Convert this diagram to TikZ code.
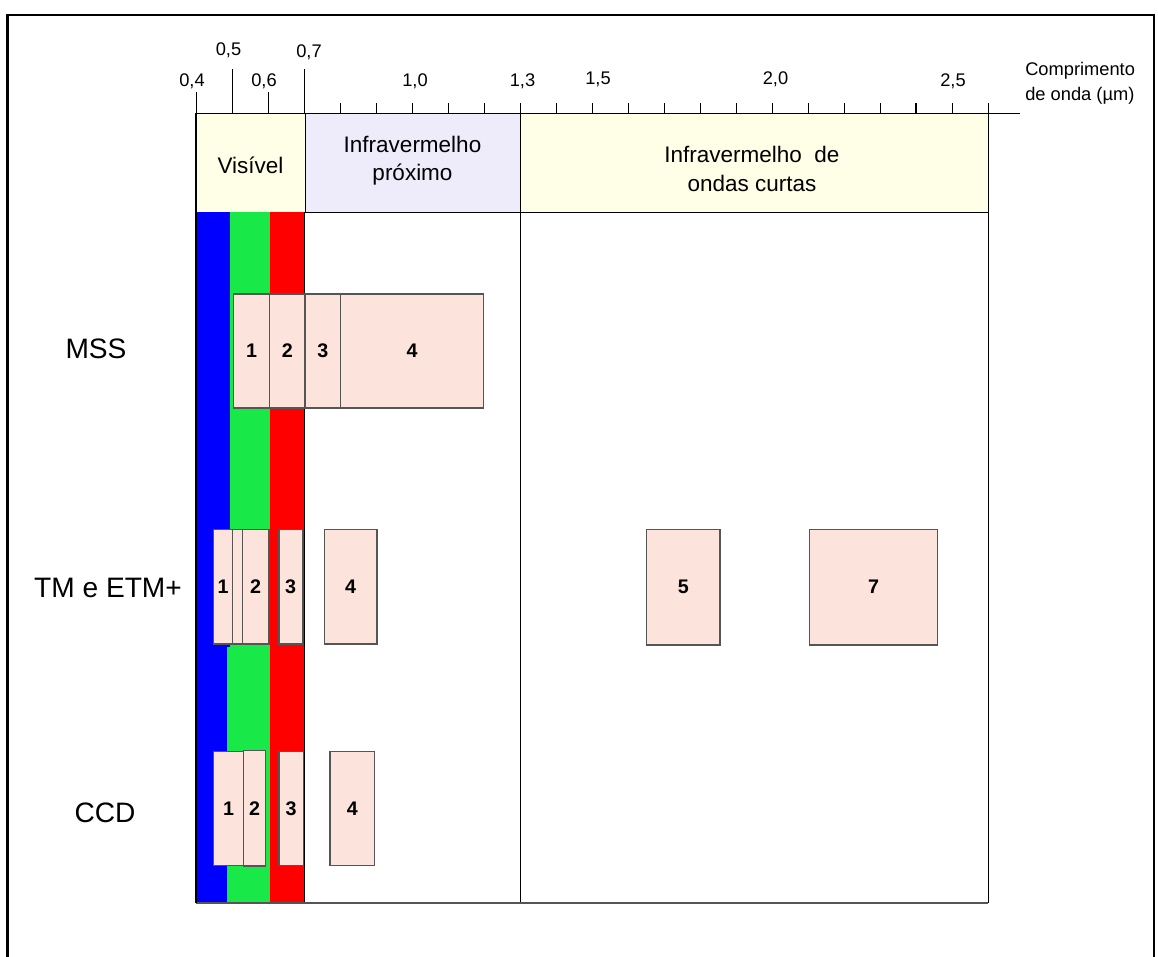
\documentclass[tikz,border=0pt]{standalone}
\usepackage{fontspec}
\setmainfont{Liberation Sans}
\usepackage{xcolor}
\definecolor{specBlue}{RGB}{0, 0, 255}
\definecolor{specGreen}{RGB}{24, 232, 72}
\definecolor{specRed}{RGB}{255, 0, 0}
\definecolor{specCream}{RGB}{255, 255, 232}
\definecolor{specLilac}{RGB}{238, 235, 251}
\definecolor{specPeach}{RGB}{252, 227, 220}
\definecolor{specEdge}{RGB}{85, 85, 85}

% band box: name, x1, y1, x2, y2, label
\newcommand{\bandbox}[6]{%
  \draw[bandedge] (#2,#3) rectangle (#4,#5);
  \node[bandnum] (#1) at ({(#2+#4)/2},{(#3+#5)/2}) {#6};
}

\begin{document}
\begin{tikzpicture}[x=0.025cm, y=-0.025cm,
    bandedge/.style={draw=specEdge, fill=specPeach, line width=0.9pt},
    bandnum/.style={font=\fontsize{14}{16}\selectfont\bfseries, inner sep=0pt},
    ticklbl/.style={font=\fontsize{13}{15}\selectfont, inner sep=0pt},
    sensor/.style={font=\fontsize{20}{24}\selectfont, inner sep=0pt},
    region/.style={font=\fontsize{16}{20}\selectfont, align=center, inner sep=0pt}]
    \useasboundingbox (0,0) rectangle (1158,956);

    % Frame
    \draw[line width=1.8pt] (7.5,970) -- (7.5,15) -- (1154,15) -- (1154,970);

    % Header regions
    \draw[line width=0.7pt, fill=specCream] (196,113) rectangle (305,212);
    \draw[line width=0.7pt, fill=specLilac] (305,113) rectangle (520,212);
    \draw[line width=0.7pt, fill=specCream] (520,113) rectangle (988,212);
    \node[region] (vis) at (250.5,165) {Visível};
    \node[region] (nir) at (412.5,161) {Infravermelho\\próximo};
    \node[region] (swir) at (752,169) {Infravermelho\ \ de\\ondas curtas};

    % Visible colours
    \fill[specGreen] (226.5,212) rectangle (269.5,903);
    \fill[specBlue] (196,212) rectangle (229.5,647);
    \fill[specBlue] (196,647) rectangle (226.5,903);
    \fill[specRed] (269.5,212) rectangle (304.5,903);

    % Body lines
    \draw[line width=0.7pt] (304.5,212) -- (304.5,903);
    \draw[line width=0.5pt] (520,212) -- (520,903);
    \draw[line width=0.7pt] (988,113) -- (988,903);
    \draw[line width=1.4pt, specEdge] (196,903) -- (988,903);
    \draw[line width=1.2pt] (196,113) -- (196,903);

    % Axis
    \draw[line width=0.7pt] (196,113) -- (1020,113);
    \foreach \i in {0,...,22}
        \draw[line width=0.7pt] (196+36*\i,113) -- (196+36*\i,103);
    \draw[line width=0.7pt] (196,113) -- (196,92);
    \draw[line width=0.7pt] (268,113) -- (268,92);
    \draw[line width=0.7pt] (232,113) -- (232,69);
    \draw[line width=0.7pt] (304.5,113) -- (304.5,69);
    \draw[line width=1.4pt] (916,113) -- (916,103);

    % Axis labels
    \node[ticklbl] (l04) at (192,81) {0,4};
    \node[ticklbl] (l05) at (228.5,50) {0,5};
    \node[ticklbl] (l06) at (264,81) {0,6};
    \node[ticklbl] (l07) at (309,52) {0,7};
    \node[ticklbl] (l10) at (415,81) {1,0};
    \node[ticklbl] (l13) at (522.5,81) {1,3};
    \node[ticklbl] (l15) at (598,79) {1,5};
    \node[ticklbl] (l20) at (775.5,79) {2,0};
    \node[ticklbl] (l25) at (953,81) {2,5};
    \node[ticklbl, align=left, anchor=west, font=\fontsize{13}{18}\selectfont] (unit) at (1025,83) {Comprimento\\de onda (µm)};

    % Sensors
    \node[sensor] (mss) at (96,349) {MSS};
    \node[sensor] (tm) at (108,588) {TM e ETM+};
    \node[sensor] (ccd) at (105,813) {CCD};

    % MSS bands
    \bandbox{mss1}{233.4}{294}{269.6}{408}{1}
    \bandbox{mss2}{269.6}{294}{305}{408}{2}
    \bandbox{mss3}{305}{294}{340.5}{408}{3}
    \bandbox{mss4}{340.5}{294}{483.7}{408}{4}

    % TM and ETM+ bands
    \bandbox{tm1}{213.7}{529.3}{232.7}{644}{1}
    \bandbox{tm8}{232.7}{529.3}{242.3}{644}{}
    \bandbox{tm2}{242.3}{529.3}{269}{644}{2}
    \bandbox{tm3}{279}{529.3}{302.3}{644}{3}
    \bandbox{tm4}{324.3}{529.3}{377}{644}{4}
    \bandbox{tm5}{646.7}{529.3}{720}{645}{5}
    \bandbox{tm7}{809.3}{529.3}{937.7}{645}{7}

    % CCD bands
    \bandbox{ccd1}{213.7}{751.7}{243.3}{865.8}{1}
    \bandbox{ccd2}{243.3}{750.3}{265.7}{866}{2}
    \bandbox{ccd3}{279}{751.7}{303.3}{865.8}{3}
    \bandbox{ccd4}{330}{751.7}{374.7}{865.8}{4}
\end{tikzpicture}
\end{document}
